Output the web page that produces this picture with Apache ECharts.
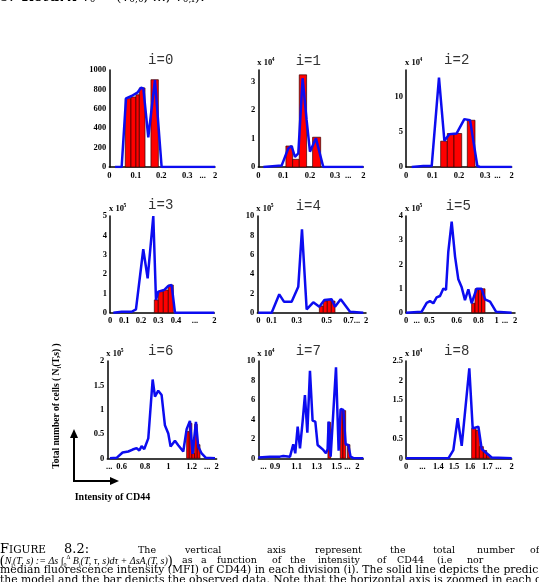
<!DOCTYPE html>
<html>
<head>
<meta charset="utf-8">
<script src="https://cdn.jsdelivr.net/npm/echarts@6/dist/echarts.min.js"></script>
<style>
html, body { margin: 0; padding: 0; background: #fff; }
#chart { width: 539px; height: 582px; }
</style>
</head>
<body>
<div id="chart"></div>
<script>
// panel names and the power of ten written over each y axis
var panelNames = ['i=0', 'i=1', 'i=2', 'i=3', 'i=4', 'i=5', 'i=6', 'i=7', 'i=8'];
var scaleExp = [null, 4, 4, 5, 5, 5, 5, 4, 4];

// y axes
var yMax = [1000, 3.42, 13.9, 5, 10, 4, 2, 10, 2.5];
var yTicks = [
    [0, 200, 400, 600, 800, 1000],
    [0, 1, 2, 3],
    [0, 5, 10],
    [0, 1, 2, 3, 4, 5],
    [0, 2, 4, 6, 8, 10],
    [0, 1, 2, 3, 4],
    [0, 0.5, 1, 1.5, 2],
    [0, 2, 4, 6, 8, 10],
    [0, 0.5, 1, 1.5, 2, 2.5]
];

// x axes are zoomed, so positions run 0..100 along each axis
var xTickPos = [
    [0, 25.2, 49.2, 73.8, 88.3, 100],
    [0, 23.8, 49.2, 73.0, 85.7, 100],
    [0, 24.9, 50.2, 74.8, 86.4, 100],
    [0, 13.7, 29.7, 46.3, 63.3, 81.5, 100],
    [0.9, 13.2, 36.2, 63.8, 86.8, 100],
    [0, 9.8, 21.4, 46.5, 66.4, 83.2, 90.8, 100],
    [1.8, 13.1, 34.5, 55.8, 77.1, 91.5, 100],
    [4.8, 15.9, 36.5, 55.6, 74.6, 84.8, 94.3],
    [0, 15.5, 30.6, 45.4, 60.6, 77.0, 87.4, 100]
];
var xTickLabels = [
    ['0', '0.1', '0.2', '0.3', '...', '2'],
    ['0', '0.1', '0.2', '0.3', '...', '2'],
    ['0', '0.1', '0.2', '0.3', '...', '2'],
    ['0', '0.1', '0.2', '0.3', '0.4', '...', '2'],
    ['0', '0.1', '0.3', '0.5', '0.7...', '2'],
    ['0', '...', '0.5', '0.6', '0.8', '1', '...', '2'],
    ['...', '0.6', '0.8', '1', '1.2', '...', '2'],
    ['...', '0.9', '1.1', '1.3', '1.5', '...', '2'],
    ['0', '...', '1.4', '1.5', '1.6', '1.7', '...', '2']
];

// model prediction (solid line): [position, cells]
var line0 = [[5.4,0],[11.7,0],[15.8,708],[21.1,732],[26.5,766],[30.0,818],[32.2,811],[36.9,306],[43.2,897],[49.5,0],[100,0]];
var line1 = [[4.8,0],[22.2,0.05],[28.6,0.66],[31.7,0.74],[34.9,0.36],[38.1,0.48],[42.2,3.13],[46.0,1.66],[49.2,0.54],[54.9,1.01],[61.9,0],[100,0]];
var line2 = [[5.4,0],[16.4,0.14],[24.3,0.14],[31.2,12.8],[36.3,3.76],[41.0,4.71],[47.9,4.81],[55.2,6.86],[60.6,6.71],[67.5,0.14],[70.0,0],[100,0]];
var line3 = [[3.2,0],[11.2,0.05],[20.8,0.05],[24.9,0.17],[31.9,3.28],[36.1,1.78],[41.5,5.0],[44.1,0.66],[46.3,1.09],[51.8,1.17],[55.9,1.38],[59.1,1.43],[62.3,0],[100,0]];
var line4 = [[0.9,0],[13.2,0],[20.2,1.9],[24.5,1.14],[31.6,1.14],[37.7,2.69],[41.1,8.62],[45.4,0.34],[51.5,1.07],[57.1,0.62],[61.7,1.31],[68.4,1.38],[71.5,0.62],[76.7,1.38],[85.3,0.1],[97.5,0]];
var line5 = [[0,0],[14.4,0.04],[19.0,0.41],[22.0,0.48],[25.1,0.39],[28.1,0.63],[31.2,0.69],[34.3,1.0],[36.7,0.94],[38.8,2.52],[41.9,3.77],[45.0,2.32],[48.0,1.38],[51.1,1.05],[54.1,0.52],[57.2,0.97],[60.2,0.39],[64.8,0.99],[69.4,0.99],[72.5,0.55],[77.1,0.46],[82.6,0.04],[96.9,0]];
var line6 = [[2.4,0],[8.5,0.01],[14.0,0.12],[19.2,0.14],[23.2,0.18],[26.8,0.21],[29.3,0.16],[31.4,0.25],[33.8,0.19],[37.5,0.41],[41.5,1.62],[43.6,1.27],[46.6,1.39],[49.7,1.3],[52.7,0.68],[55.8,0.51],[57.9,0.24],[61.9,0.36],[64.9,0.27],[69.5,0.14],[72.6,0.6],[75.6,0.77],[78.0,0.09],[81.1,0.75],[83.2,0.24],[86.3,0.1],[90.2,0.01],[98.5,0]];
var line7 = [[0,0.07],[11.1,0.17],[20.6,0.17],[23.8,0.24],[30.2,0.17],[33.3,1.44],[35.2,0.51],[37.5,3.25],[39.7,1.03],[42.2,3.77],[44.4,6.5],[46.7,2.64],[49.2,9.0],[51.7,3.87],[54.3,3.77],[56.5,1.37],[61.9,0.86],[64.4,0.51],[66.0,0.92],[67.0,3.77],[68.9,0.17],[74.0,9.35],[76.5,0.79],[78.4,5.07],[81.0,4.97],[83.2,1.44],[85.7,1.37],[87.9,0.17],[91.1,0],[100,0]];
var line8 = [[0,0],[40.1,0],[44.8,0.21],[48.9,1.03],[52.7,0.32],[59.9,2.31],[63.1,0.77],[68.5,0.81],[71.6,0.24],[76.3,0.13],[81.1,0.02],[100,0]];

// observed data (bars): [from, to, cells]
var bars0 = [[15.1,20.5,705],[20.5,25.2,722],[25.2,28.4,745],[28.4,33.8,815],[39.4,46.4,900]];
var bars1 = [[26.3,32.7,0.74],[32.7,39.0,0.27],[39.0,46.0,3.25],[51.7,59.4,1.05]];
var bars2 = [[32.8,39.1,3.7],[39.1,45.4,4.8],[45.4,52.7,4.8],[58.0,65.3,6.7]];
var bars3 = [[42.5,46.3,0.66],[46.3,51.1,1.09],[51.1,55.9,1.17],[55.9,60.7,1.43]];
var bars4 = [[57.1,60.7,0.69],[60.7,64.4,1.2],[64.4,68.1,1.31],[68.1,71.5,1.2]];
var bars5 = [[60.2,63.3,0.39],[63.3,66.4,0.99],[66.4,69.4,0.99],[69.4,72.5,0.99]];
var bars6 = [[72.6,75.0,0.55],[75.0,77.4,0.72],[77.4,79.9,0.1],[79.9,82.3,0.7],[82.3,84.8,0.28]];
var bars7 = [[66.3,68.9,3.7],[78.1,80.6,5.0],[80.6,83.2,4.9],[84.8,87.3,1.4]];
var bars8 = [[62.1,66.2,0.77],[66.2,69.4,0.72],[69.4,73.2,0.3],[73.2,76.3,0.2],[76.3,78.9,0.1]];

var lines = [line0, line1, line2, line3, line4, line5, line6, line7, line8];
var bars = [bars0, bars1, bars2, bars3, bars4, bars5, bars6, bars7, bars8];

// layout of the 3x3 panels
var gridLeft = [109.3, 258.3, 406, 110, 257.3, 406, 107.3, 258.3, 406];
var gridWidth = [105.7, 105, 105.7, 104.3, 108.7, 109, 109.3, 105, 105.7];
var gridTop = [70, 70, 70, 216, 216, 216, 361, 361, 361];
var gridHeight = [97, 97, 97, 96.7, 96.7, 96.7, 97.3, 97.3, 97.3];
var titlePos = [[160.7,60],[308.3,61],[456.7,60],[160.7,205.5],[308.3,206],[458.3,206],[160.7,351],[308.3,351],[456.7,351]];

var tickFont = 'Liberation Serif';

function renderBar(params, api) {
    var p0 = api.coord([api.value(0), api.value(2)]);
    var p1 = api.coord([api.value(1), 0]);
    return {
        type: 'rect',
        shape: { x: p0[0], y: p0[1], width: p1[0] - p0[0], height: p1[1] - p0[1] },
        style: { fill: '#ff0000', stroke: '#3a0000', lineWidth: 0.7 }
    };
}

var grids = [], xAxes = [], yAxes = [], series = [], graphics = [];

for (var i = 0; i < 9; i++) {
    (function (k) {
        grids.push({
            left: gridLeft[k], top: gridTop[k], width: gridWidth[k], height: gridHeight[k],
            containLabel: false, outerBoundsMode: 'none'
        });
        xAxes.push({
            gridIndex: k, type: 'value', min: 0, max: 100,
            axisLine: { show: true, onZero: false, lineStyle: { color: '#000', width: 1.5 } },
            axisTick: { show: false },
            splitLine: { show: false },
            axisLabel: {
                customValues: xTickPos[k], margin: 4, color: '#000',
                fontFamily: tickFont, fontWeight: 'bold', fontSize: 8.5,
                formatter: function (v) {
                    var j = xTickPos[k].indexOf(v);
                    return j < 0 ? '' : xTickLabels[k][j];
                }
            }
        });
        yAxes.push({
            gridIndex: k, type: 'value', min: 0, max: yMax[k],
            axisLine: { show: true, onZero: false, lineStyle: { color: '#000', width: 1.5 } },
            axisTick: { show: false },
            splitLine: { show: false },
            axisLabel: {
                customValues: yTicks[k], margin: 3, color: '#000',
                fontFamily: tickFont, fontWeight: 'bold', fontSize: 8.5,
                formatter: function (v) { return String(v); }
            }
        });
        series.push({
            type: 'custom', xAxisIndex: k, yAxisIndex: k, data: bars[k],
            encode: { x: [0, 1], y: 2 }, renderItem: renderBar, z: 2, silent: true
        });
        series.push({
            type: 'line', xAxisIndex: k, yAxisIndex: k, data: lines[k],
            symbol: 'none', z: 3, silent: true,
            lineStyle: { color: '#0c0cf0', width: 2.5 }
        });

        graphics.push({
            type: 'text', x: titlePos[k][0], y: titlePos[k][1],
            style: { text: panelNames[k], align: 'center', verticalAlign: 'middle',
                     font: '14px "Liberation Mono"', fill: '#333' }
        });
        if (scaleExp[k] != null) {
            graphics.push({
                type: 'text', x: gridLeft[k] - 1, y: gridTop[k] - 7,
                style: { text: 'x 10', align: 'left', verticalAlign: 'middle',
                         font: 'bold 8.5px "Liberation Serif"', fill: '#000' }
            });
            graphics.push({
                type: 'text', x: gridLeft[k] + 13.5, y: gridTop[k] - 10.5,
                style: { text: String(scaleExp[k]), align: 'left', verticalAlign: 'middle',
                         font: 'bold 5.5px "Liberation Serif"', fill: '#000' }
            });
        }
    })(i);
}

// text around the figure (page scan)
var serif = '"DejaVu Serif"';
graphics.push({
    type: 'text', x: 0, y: -3,
    style: {
        text: '{n|5:  }{r|Return}{n| v}{s|0}{n| = (v}{s|0,0}{n|, ..., v}{s|0,I}{n|).}',
        verticalAlign: 'middle', fill: '#000',
        rich: {
            n: { font: '14px ' + serif },
            r: { font: 'italic bold 14px ' + serif },
            s: { font: '9px ' + serif, verticalAlign: 'bottom' }
        }
    }
});

graphics.push({
    type: 'text', x: 57, y: 406, rotation: Math.PI / 2,
    style: {
        text: '{t|Total number of cells ( N}{s|i}{t|(T,s) )}',
        align: 'center', verticalAlign: 'middle', fill: '#000',
        rich: {
            t: { font: 'bold 9.5px "Liberation Serif"' },
            s: { font: 'bold 6px "Liberation Serif"', verticalAlign: 'bottom' }
        }
    }
});
graphics.push({ type: 'polyline', shape: { points: [[74, 482], [74, 436]] }, style: { stroke: '#000', lineWidth: 2, fill: null } });
graphics.push({ type: 'polygon', shape: { points: [[70, 438], [74, 429], [78, 438]] }, style: { fill: '#000' } });
graphics.push({ type: 'polyline', shape: { points: [[73, 481], [112, 481]] }, style: { stroke: '#000', lineWidth: 2, fill: null } });
graphics.push({ type: 'polygon', shape: { points: [[110, 477], [119, 481], [110, 485]] }, style: { fill: '#000' } });
graphics.push({
    type: 'text', x: 112.5, y: 497,
    style: { text: 'Intensity of CD44', align: 'center', verticalAlign: 'middle',
             font: 'bold 10px "Liberation Serif"', fill: '#000' }
});

// caption
var captionWords1 = [['The', 138], ['vertical', 185], ['axis', 267], ['represent', 315], ['the', 390], ['total', 433], ['number', 477], ['of', 530]];
var captionWords2 = [['as', 182], ['a', 201], ['function', 217], ['of', 272], ['the', 290], ['intensity', 318], ['of', 377], ['CD44', 397], ['(i.e', 437], ['nor', 467]];
graphics.push({
    type: 'text', x: 0, y: 550,
    style: { text: '{b|F}{c|IGURE}', verticalAlign: 'middle', fill: '#000',
             rich: { b: { font: '13px ' + serif }, c: { font: '10.5px ' + serif } } }
});
graphics.push({
    type: 'text', x: 64, y: 550,
    style: { text: '8.2:', verticalAlign: 'middle', font: '13px ' + serif, fill: '#000' }
});
captionWords1.forEach(function (w) {
    graphics.push({ type: 'text', x: w[1], y: 551,
        style: { text: w[0], verticalAlign: 'middle', font: '9.5px ' + serif, fill: '#000' } });
});
graphics.push({
    type: 'text', x: 0, y: 561,
    style: {
        text: '{p|(}{t|N}{s|i}{t|(T, s) := Δs ∫}{s|0}{u|Δ}{t| B}{s|i}{t|(T, τ, s)dτ + ΔsA}{s|i}{t|(T, s)}{p|)}',
        verticalAlign: 'middle', fill: '#000',
        rich: {
            p: { font: '14px "Liberation Serif"' },
            t: { font: 'italic 10px "Liberation Serif"' },
            s: { font: '6px "Liberation Serif"', verticalAlign: 'bottom' },
            u: { font: '6px "Liberation Serif"', verticalAlign: 'top' }
        }
    }
});
captionWords2.forEach(function (w) {
    graphics.push({ type: 'text', x: w[1], y: 561,
        style: { text: w[0], verticalAlign: 'middle', font: '9.5px ' + serif, fill: '#000' } });
});
graphics.push({
    type: 'text', x: 0, y: 570,
    style: { text: 'median fluorescence intensity (MFI) of CD44) in each division (i). The solid line depicts the predic',
             verticalAlign: 'middle', font: '10.8px ' + serif, fill: '#000' }
});
graphics.push({
    type: 'text', x: 0, y: 580,
    style: { text: 'the model and the bar depicts the observed data. Note that the horizontal axis is zoomed in each ca',
             verticalAlign: 'middle', font: '10.8px ' + serif, fill: '#000' }
});

var chart = echarts.init(document.getElementById('chart'));
chart.setOption({
    animation: false,
    backgroundColor: '#fff',
    grid: grids,
    xAxis: xAxes,
    yAxis: yAxes,
    series: series,
    graphic: graphics
});
</script>
</body>
</html>
